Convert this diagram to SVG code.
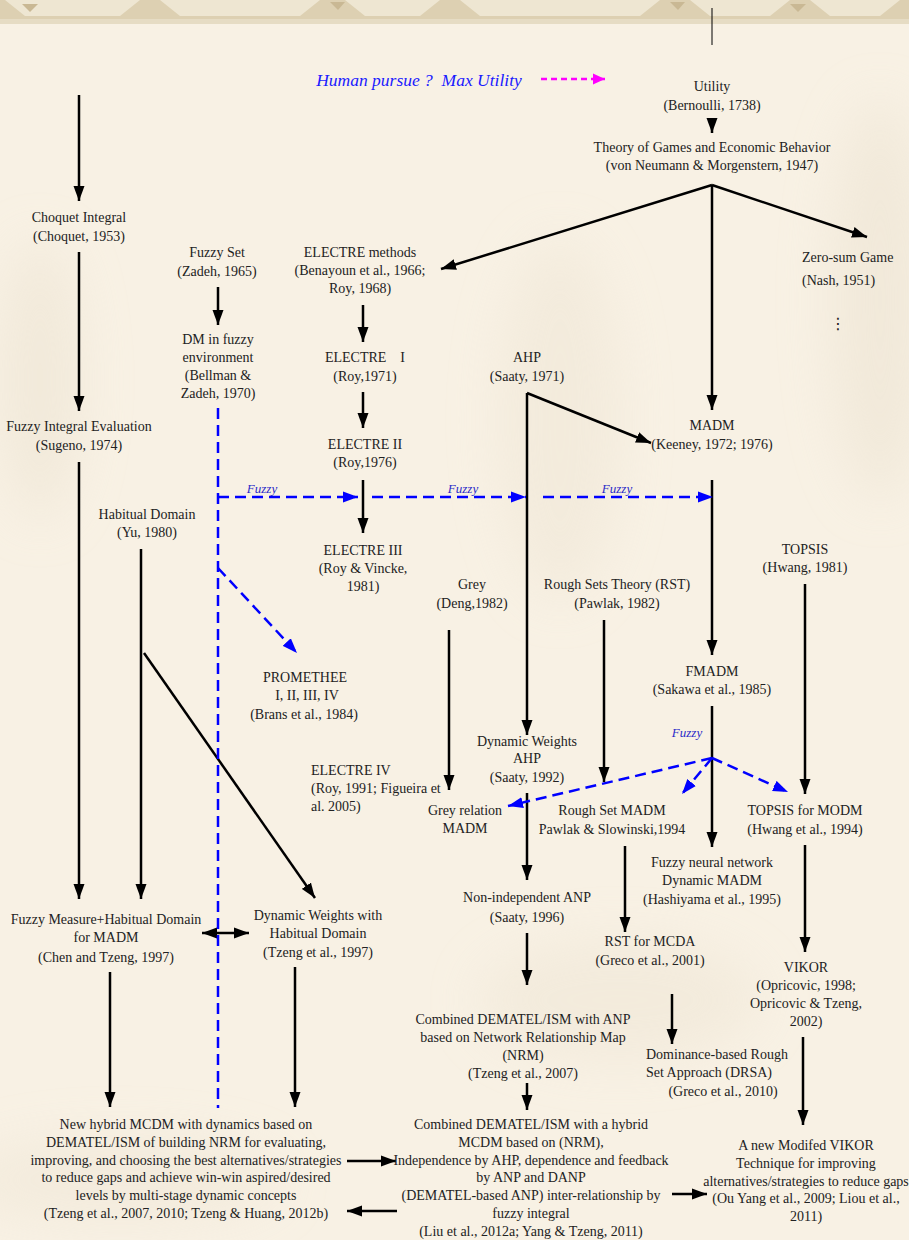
<svg xmlns="http://www.w3.org/2000/svg" width="909" height="1240" viewBox="0 0 909 1240">
<style>
.t{font-family:"Liberation Serif","Times New Roman",serif;font-size:14px;fill:#222;text-anchor:middle}
.l{text-anchor:start}
.fz{font-family:"Liberation Serif","Times New Roman",serif;font-size:13px;font-style:italic;fill:#2a2ac8;text-anchor:middle}
.k{stroke:#000;stroke-width:2.5;fill:none}
.b{stroke:#0000ff;stroke-width:2.5;fill:none;stroke-dasharray:11 6}
</style>
<defs>
<marker id="ak" markerUnits="userSpaceOnUse" markerWidth="16" markerHeight="12" refX="15" refY="6" orient="auto"><path d="M0,0.5 L15,6 L0,11.5 z" fill="#000"/></marker>
<marker id="aks" markerUnits="userSpaceOnUse" markerWidth="16" markerHeight="12" refX="0" refY="6" orient="auto"><path d="M15,0.5 L0,6 L15,11.5 z" fill="#000"/></marker>
<marker id="ab" markerUnits="userSpaceOnUse" markerWidth="16" markerHeight="12" refX="15" refY="6" orient="auto"><path d="M0,0.5 L15,6 L0,11.5 z" fill="#0000ff"/></marker>
<marker id="am" markerUnits="userSpaceOnUse" markerWidth="14" markerHeight="12" refX="12" refY="6" orient="auto"><path d="M0,0.5 L12,6 L0,11.5 z" fill="#ff00ff"/></marker>
<filter id="blur" x="-50%" y="-50%" width="200%" height="200%"><feGaussianBlur stdDeviation="25"/></filter>
</defs>
<rect width="909" height="1240" fill="#f8f1e4"/>
<g id="texture" filter="url(#blur)" opacity="0.55">
<ellipse cx="40" cy="380" rx="40" ry="140" fill="#ece3d2"/>
<ellipse cx="560" cy="420" rx="60" ry="180" fill="#efe6d6"/>
<ellipse cx="620" cy="1000" rx="140" ry="60" fill="#efe6d6"/>
<ellipse cx="880" cy="300" rx="50" ry="200" fill="#ece3d2"/>
<ellipse cx="120" cy="1180" rx="160" ry="40" fill="#efe6d6"/>
</g>
<g id="topband">
<rect x="0" y="0" width="909" height="24" fill="#ddd0b2"/>
<rect x="0" y="19" width="909" height="5" fill="#e6dcc4"/>
<path d="M5,0 L25,16 L120,16 L140,0 Z M160,0 L180,16 L300,16 L320,0 Z M345,0 L365,16 L420,16 L440,0 Z M460,0 L480,16 L640,16 L660,0 Z M690,0 L710,16 L770,16 L790,0 Z M810,0 L830,16 L880,16 L900,0 Z" fill="#eee6d2"/>
<path d="M22,4 L38,4 L30,12 Z M330,2 L345,2 L338,10 Z M670,2 L685,2 L678,10 Z M790,4 L806,4 L798,12 Z" fill="#c9b894"/>
</g>
<g id="connectors">
<line x1="712" y1="8" x2="712" y2="45" stroke="#000" stroke-width="1"/>
<line class="k" x1="712" y1="118" x2="712" y2="133" marker-end="url(#ak)"/>
<line class="k" x1="712" y1="185" x2="441" y2="269" marker-end="url(#ak)"/>
<line class="k" x1="712" y1="185" x2="712" y2="410" marker-end="url(#ak)"/>
<line class="k" x1="712" y1="185" x2="867" y2="237" marker-end="url(#ak)"/>
<line class="k" x1="79" y1="95" x2="79" y2="201" marker-end="url(#ak)"/>
<line class="k" x1="79" y1="252" x2="79" y2="411" marker-end="url(#ak)"/>
<line class="k" x1="79" y1="462" x2="79" y2="899" marker-end="url(#ak)"/>
<line class="k" x1="218" y1="287" x2="218" y2="325" marker-end="url(#ak)"/>
<line class="k" x1="363" y1="305" x2="363" y2="342" marker-end="url(#ak)"/>
<line class="k" x1="363" y1="392" x2="363" y2="428" marker-end="url(#ak)"/>
<line class="k" x1="363" y1="480" x2="363" y2="533" marker-end="url(#ak)"/>
<line class="k" x1="527" y1="393" x2="527" y2="735" marker-end="url(#ak)"/>
<line class="k" x1="527" y1="393" x2="651" y2="443" marker-end="url(#ak)"/>
<line class="k" x1="712" y1="480" x2="712" y2="655" marker-end="url(#ak)"/>
<line class="k" x1="141" y1="549" x2="141" y2="899" marker-end="url(#ak)"/>
<line class="k" x1="144" y1="653" x2="315" y2="898" marker-end="url(#ak)"/>
<line class="k" x1="449" y1="630" x2="449" y2="790" marker-end="url(#ak)"/>
<line class="k" x1="604" y1="620" x2="604" y2="782" marker-end="url(#ak)"/>
<line class="k" x1="805" y1="584" x2="805" y2="794" marker-end="url(#ak)"/>
<line class="k" x1="712" y1="706" x2="712" y2="847" marker-end="url(#ak)"/>
<line class="k" x1="527" y1="793" x2="527" y2="880" marker-end="url(#ak)"/>
<line class="k" x1="527" y1="933" x2="527" y2="985" marker-end="url(#ak)"/>
<line class="k" x1="527" y1="1083" x2="527" y2="1110" marker-end="url(#ak)"/>
<line class="k" x1="625" y1="846" x2="625" y2="932" marker-end="url(#ak)"/>
<line class="k" x1="805" y1="845" x2="805" y2="952" marker-end="url(#ak)"/>
<line class="k" x1="672" y1="994" x2="672" y2="1044" marker-end="url(#ak)"/>
<line class="k" x1="803" y1="1037" x2="803" y2="1125" marker-end="url(#ak)"/>
<line class="k" x1="672" y1="1194" x2="707" y2="1194" marker-end="url(#ak)"/>
<line class="k" x1="110" y1="972" x2="110" y2="1107" marker-end="url(#ak)"/>
<line class="k" x1="295" y1="967" x2="295" y2="1107" marker-end="url(#ak)"/>
<line class="k" x1="202" y1="933" x2="249" y2="933" marker-start="url(#aks)" marker-end="url(#ak)"/>
<line class="k" x1="347" y1="1161" x2="396" y2="1161" marker-end="url(#ak)"/>
<line class="k" x1="397" y1="1211" x2="347" y2="1211" marker-end="url(#ak)"/>
<line x1="541" y1="79" x2="605" y2="79" stroke="#ff00ff" stroke-width="2.5" stroke-dasharray="6 4" marker-end="url(#am)"/>
<line class="b" x1="218" y1="408" x2="218" y2="1108"/>
<line class="b" x1="218" y1="497" x2="358" y2="497" marker-end="url(#ab)"/>
<line class="b" x1="372" y1="497" x2="526" y2="497" marker-end="url(#ab)"/>
<line class="b" x1="543" y1="497" x2="713" y2="497" marker-end="url(#ab)"/>
<line class="b" x1="218" y1="568" x2="297" y2="653" marker-end="url(#ab)"/>
<line class="b" x1="712" y1="758" x2="508" y2="806" marker-end="url(#ab)"/>
<line class="b" x1="712" y1="758" x2="682" y2="794" marker-end="url(#ab)"/>
<line class="b" x1="712" y1="758" x2="788" y2="792" marker-end="url(#ab)"/>
<text class="fz" x="262" y="493">Fuzzy</text>
<text class="fz" x="463" y="493">Fuzzy</text>
<text class="fz" x="617" y="493">Fuzzy</text>
<text class="fz" x="687" y="737">Fuzzy</text>
</g>
<text x="419" y="86" font-family="Liberation Serif, serif" font-size="17.5" font-style="italic" fill="#1a1aff" text-anchor="middle">Human pursue ?&#160; Max Utility</text>
<g id="utility"><text class="t" x="712" y="91">Utility</text><text class="t" x="712" y="110">(Bernoulli, 1738)</text></g>
<g id="theory"><text class="t" x="712" y="152">Theory of Games and Economic Behavior</text><text class="t" x="712" y="170">(von Neumann &amp; Morgenstern, 1947)</text></g>
<g id="zerosum"><text class="t l" x="802" y="262">Zero-sum Game</text><text class="t l" x="802" y="285">(Nash, 1951)</text><text x="838" y="329" font-family="DejaVu Sans, sans-serif" font-size="16" fill="#222" text-anchor="middle">⋮</text></g>
<g id="choquet"><text class="t" x="79" y="222">Choquet Integral</text><text class="t" x="79" y="241">(Choquet, 1953)</text></g>
<g id="sugeno"><text class="t" x="79" y="431">Fuzzy Integral Evaluation</text><text class="t" x="79" y="450">(Sugeno, 1974)</text></g>
<g id="fuzzyset"><text class="t" x="217" y="257">Fuzzy Set</text><text class="t" x="217" y="276">(Zadeh, 1965)</text></g>
<g id="dmfuzzy"><text class="t" x="218" y="344">DM in fuzzy</text><text class="t" x="218" y="362">environment</text><text class="t" x="218" y="380">(Bellman &amp;</text><text class="t" x="218" y="398">Zadeh, 1970)</text></g>
<g id="electre"><text class="t" x="360" y="257">ELECTRE methods</text><text class="t" x="360" y="275">(Benayoun et al., 1966;</text><text class="t" x="360" y="293">Roy, 1968)</text></g>
<g id="electre1"><text class="t" x="365" y="362">ELECTRE&#160;&#160;&#160; I</text><text class="t" x="365" y="381">(Roy,1971)</text></g>
<g id="electre2"><text class="t" x="365" y="449">ELECTRE II</text><text class="t" x="365" y="467">(Roy,1976)</text></g>
<g id="electre3"><text class="t" x="363" y="555">ELECTRE III</text><text class="t" x="363" y="573">(Roy &amp; Vincke,</text><text class="t" x="363" y="591">1981)</text></g>
<g id="ahp"><text class="t" x="527" y="362">AHP</text><text class="t" x="527" y="381">(Saaty, 1971)</text></g>
<g id="madm"><text class="t" x="712" y="430">MADM</text><text class="t" x="712" y="449">(Keeney, 1972; 1976)</text></g>
<g id="habitual"><text class="t" x="147" y="519">Habitual Domain</text><text class="t" x="147" y="537">(Yu, 1980)</text></g>
<g id="promethee"><text class="t" x="305" y="682">PROMETHEE</text><text class="t" x="307" y="700">I, II, III, IV</text><text class="t" x="304" y="719">(Brans et al., 1984)</text></g>
<g id="grey"><text class="t" x="472" y="589">Grey</text><text class="t" x="472" y="608">(Deng,1982)</text></g>
<g id="rst"><text class="t" x="617" y="589">Rough Sets Theory (RST)</text><text class="t" x="617" y="608">(Pawlak, 1982)</text></g>
<g id="topsis"><text class="t" x="805" y="554">TOPSIS</text><text class="t" x="805" y="572">(Hwang, 1981)</text></g>
<g id="fmadm"><text class="t" x="712" y="676">FMADM</text><text class="t" x="712" y="694">(Sakawa et al., 1985)</text></g>
<g id="electre4"><text class="t l" x="311" y="775">ELECTRE IV</text><text class="t l" x="311" y="793">(Roy, 1991; Figueira et</text><text class="t l" x="311" y="811">al. 2005)</text></g>
<g id="dynahp"><text class="t" x="527" y="746">Dynamic Weights</text><text class="t" x="527" y="763">AHP</text><text class="t" x="527" y="782">(Saaty, 1992)</text></g>
<g id="greyrel"><text class="t" x="465" y="815">Grey relation</text><text class="t" x="465" y="833">MADM</text></g>
<g id="roughmadm"><text class="t" x="612" y="815">Rough Set MADM</text><text class="t" x="612" y="834">Pawlak &amp; Slowinski,1994</text></g>
<g id="topsismodm"><text class="t" x="805" y="815">TOPSIS for MODM</text><text class="t" x="805" y="834">(Hwang et al., 1994)</text></g>
<g id="fuzzyneural"><text class="t" x="712" y="867">Fuzzy neural network</text><text class="t" x="712" y="885">Dynamic MADM</text><text class="t" x="712" y="904">(Hashiyama et al., 1995)</text></g>
<g id="fuzzymeasure"><text class="t" x="106" y="924">Fuzzy Measure+Habitual Domain</text><text class="t" x="106" y="942">for MADM</text><text class="t" x="106" y="962">(Chen and Tzeng, 1997)</text></g>
<g id="dynhd"><text class="t" x="318" y="920">Dynamic Weights with</text><text class="t" x="318" y="938">Habitual Domain</text><text class="t" x="318" y="957">(Tzeng et al., 1997)</text></g>
<g id="nonindep"><text class="t" x="527" y="902">Non-independent ANP</text><text class="t" x="527" y="922">(Saaty, 1996)</text></g>
<g id="rstmcda"><text class="t" x="650" y="946">RST for MCDA</text><text class="t" x="650" y="965">(Greco et al., 2001)</text></g>
<g id="vikor"><text class="t" x="806" y="972">VIKOR</text><text class="t" x="806" y="990">(Opricovic, 1998;</text><text class="t" x="806" y="1008">Opricovic &amp; Tzeng,</text><text class="t" x="806" y="1026">2002)</text></g>
<g id="combinedanp"><text class="t" x="523" y="1024">Combined DEMATEL/ISM with ANP</text><text class="t" x="523" y="1042">based on Network Relationship Map</text><text class="t" x="523" y="1060">(NRM)</text><text class="t" x="523" y="1078">(Tzeng et al., 2007)</text></g>
<g id="drsa"><text class="t l" x="646" y="1059">Dominance-based Rough</text><text class="t l" x="646" y="1077">Set Approach (DRSA)</text><text class="t" x="723" y="1096">(Greco et al., 2010)</text></g>
<g id="newhybrid"><text class="t" x="186" y="1129">New hybrid MCDM with dynamics based on</text><text class="t" x="186" y="1147">DEMATEL/ISM of building NRM for evaluating,</text><text class="t" x="186" y="1165">improving, and choosing the best alternatives/strategies</text><text class="t" x="186" y="1182">to reduce gaps and achieve win-win aspired/desired</text><text class="t" x="186" y="1200">levels by multi-stage dynamic concepts</text><text class="t" x="186" y="1218">(Tzeng et al., 2007, 2010; Tzeng &amp; Huang, 2012b)</text></g>
<g id="combinedhybrid"><text class="t" x="531" y="1129">Combined DEMATEL/ISM with a hybrid</text><text class="t" x="531" y="1147">MCDM based on (NRM),</text><text class="t" x="531" y="1165">Independence by AHP, dependence and feedback</text><text class="t" x="531" y="1182">by ANP and DANP</text><text class="t" x="531" y="1200">(DEMATEL-based ANP) inter-relationship by</text><text class="t" x="531" y="1218">fuzzy integral</text><text class="t" x="531" y="1236">(Liu et al., 2012a; Yang &amp; Tzeng, 2011)</text></g>
<g id="modvikor"><text class="t" x="806" y="1150">A new Modifed VIKOR</text><text class="t" x="806" y="1168">Technique for improving</text><text class="t" x="806" y="1186">alternatives/strategies to reduce gaps</text><text class="t" x="806" y="1203">(Ou Yang et al., 2009; Liou et al.,</text><text class="t" x="806" y="1221">2011)</text></g>
</svg>
